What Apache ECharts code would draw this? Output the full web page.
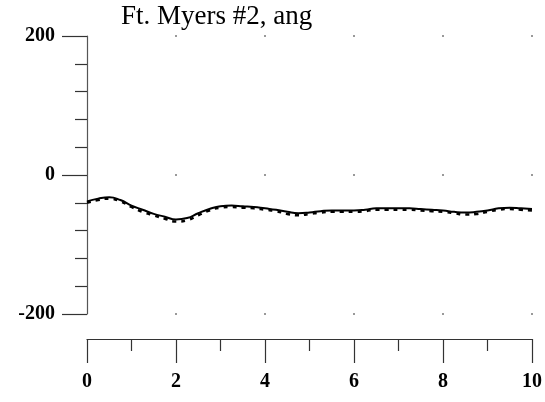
<!DOCTYPE html>
<html>
<head>
<meta charset="utf-8">
<script src="https://cdn.jsdelivr.net/npm/echarts@6/dist/echarts.min.js"></script>
<style>html,body{margin:0;padding:0;background:#fff}#c{width:545px;height:402px}</style>
</head>
<body>
<div id="c"></div>
<script>
var titleText = "Ft. Myers #2, ang";
var xValues = [0,0.25,0.5,0.75,1,1.25,1.5,1.75,2,2.25,2.5,2.75,3,3.25,3.5,3.75,4,4.25,4.5,4.75,5,5.25,5.5,5.75,6,6.25,6.5,6.75,7,7.25,7.5,7.75,8,8.25,8.5,8.75,9,9.25,9.5,9.75,10];
var solidValues = [-38,-34,-32,-36,-44,-50,-56,-60,-64,-62,-55,-49,-45,-44,-45,-46,-48,-50,-53,-55,-54,-52,-51,-51,-51,-50,-48,-48,-48,-48,-49,-50,-51,-53,-54,-53,-51,-48,-47,-48,-49];
var dashedValues = [-40,-36,-34,-38,-46,-53,-58,-63,-67,-65,-58,-51,-47,-46,-47,-48,-50,-52,-56,-58,-56,-54,-53,-53,-53,-52,-50,-50,-50,-50,-51,-52,-53,-55,-57,-56,-53,-50,-49,-50,-51];
var xTicks = [0,2,4,6,8,10];
var yTicks = [-200,0,200];

var solidData = xValues.map(function(x,i){return [x, solidValues[i]];});
var dashedData = xValues.map(function(x,i){return [x, dashedValues[i]];});
var gridDots = [];
xTicks.slice(1).forEach(function(x){ yTicks.forEach(function(y){ gridDots.push([x,y]); }); });

var chart = echarts.init(document.getElementById('c'), null, {renderer:'canvas'});
var axisFont = {fontFamily:'Liberation Serif', fontWeight:'bold', fontSize:20, color:'#000'};
chart.setOption({
  animation:false,
  title:{text:titleText, left:116, top:-2, textStyle:{fontFamily:'Liberation Serif', fontWeight:'normal', fontSize:27, color:'#000'}},
  grid:{left:87, right:6, top:36, bottom:88, containLabel:false},
  xAxis:{type:'value', min:0, max:10, interval:2, offset:25,
    axisLine:{show:true, onZero:false, lineStyle:{color:'#333', width:1.2}},
    axisTick:{show:true, inside:false, length:24, lineStyle:{color:'#333', width:1.2}},
    minorTick:{show:true, splitNumber:2, length:12, lineStyle:{color:'#333', width:1.2}},
    splitLine:{show:false},
    axisLabel:Object.assign({margin:33}, axisFont)
  },
  yAxis:{type:'value', min:-200, max:200, interval:200,
    axisLine:{show:true, onZero:false, lineStyle:{color:'#555', width:1.2}},
    axisTick:{show:true, inside:false, length:25, lineStyle:{color:'#333', width:1.2}},
    minorTick:{show:true, splitNumber:5, length:12, lineStyle:{color:'#333', width:1.2}},
    splitLine:{show:false},
    axisLabel:Object.assign({margin:32}, axisFont)
  },
  series:[
    {type:'scatter', data:gridDots, symbolSize:2, itemStyle:{color:'#555'}, silent:true, z:1},
    {type:'line', data:dashedData, smooth:true, showSymbol:false, lineStyle:{color:'#000', width:2.5, type:[4,5]}, z:2},
    {type:'line', data:solidData, smooth:true, showSymbol:false, lineStyle:{color:'#000', width:2}, z:3}
  ]
});
</script>
</body>
</html>
